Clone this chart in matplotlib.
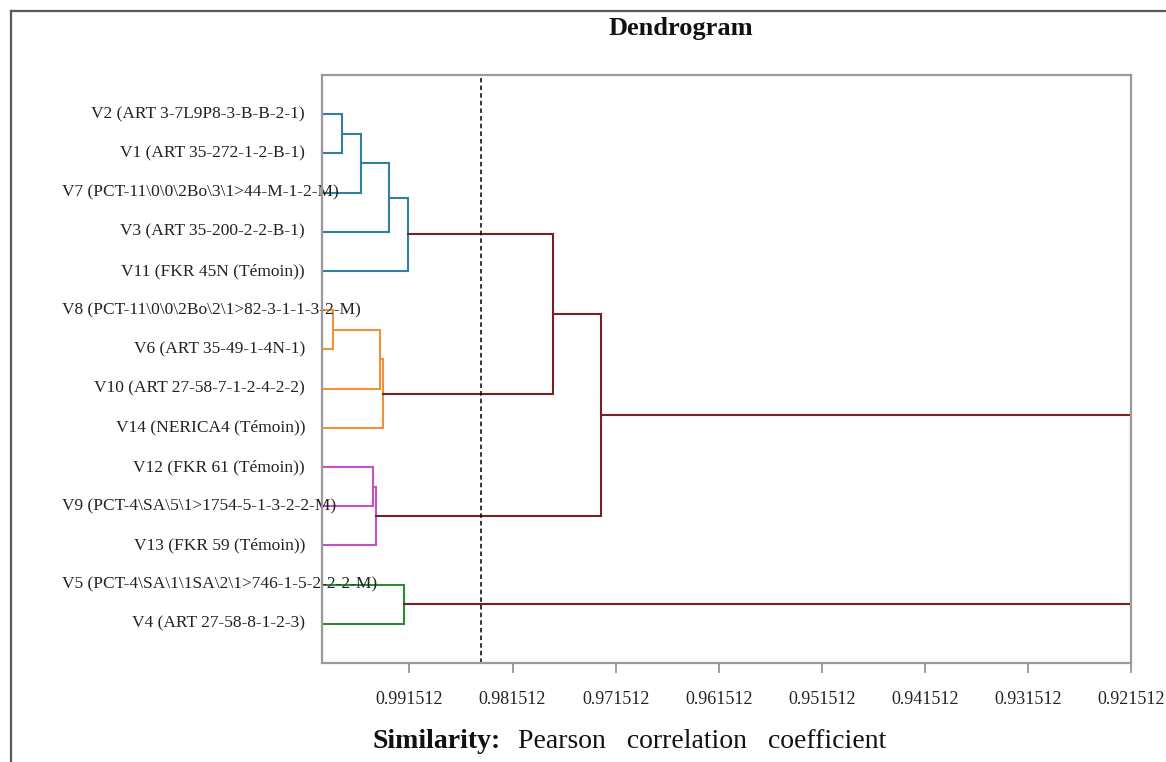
import matplotlib
matplotlib.use("Agg")
import matplotlib.pyplot as plt
from matplotlib.lines import Line2D

plt.rcParams['font.family'] = ['Liberation Serif', 'DejaVu Serif']

# feuilles dans l'ordre du dendrogramme (de haut en bas)
labels = ["V2 (ART 3-7L9P8-3-B-B-2-1)",
          "V1 (ART 35-272-1-2-B-1)",
          "V7 (PCT-11\\0\\0\\2Bo\\3\\1>44-M-1-2-M)",
          "V3 (ART 35-200-2-2-B-1)",
          "V11 (FKR 45N (Témoin))",
          "V8 (PCT-11\\0\\0\\2Bo\\2\\1>82-3-1-1-3-2-M)",
          "V6 (ART 35-49-1-4N-1)",
          "V10 (ART 27-58-7-1-2-4-2-2)",
          "V14 (NERICA4 (Témoin))",
          "V12 (FKR 61 (Témoin))",
          "V9 (PCT-4\\SA\\5\\1>1754-5-1-3-2-2-M)",
          "V13 (FKR 59 (Témoin))",
          "V5 (PCT-4\\SA\\1\\1SA\\2\\1>746-1-5-2-2-2-M)",
          "V4 (ART 27-58-8-1-2-3)"]

# fusions : enfant gauche, enfant droit, similarité, groupe
left_child = [0, 14, 15, 16, 5, 18, 19, 9, 21, 12, 17, 24, 25]
right_child = [1, 2, 3, 4, 6, 7, 8, 10, 11, 13, 20, 22, 23]
similarity = [0.99806, 0.99622, 0.99350, 0.99166,
              0.99893, 0.99437, 0.99408,
              0.99505, 0.99476,
              0.99204,
              0.97759, 0.97293, 0.921512]
group = ["blue", "blue", "blue", "blue",
         "orange", "orange", "orange",
         "pink", "pink",
         "green",
         "red", "red", "red"]

truncation = 0.98457
xticks = [0.991512, 0.981512, 0.971512, 0.961512, 0.951512, 0.941512, 0.931512, 0.921512]
x_max = 1.0
x_min = 0.921512

colors = {"blue": "#31809f", "orange": "#f0913c", "pink": "#c452c4",
          "green": "#2f8a32", "red": "#7a1f22"}

W, H = 1166, 762
fig = plt.figure(figsize=(W / 100, H / 100), dpi=100)
ax = fig.add_axes([322 / W, 99 / H, 809 / W, 588 / H])

n = len(labels)
pos_x = {i: x_max for i in range(n)}
pos_y = {i: i + 1 for i in range(n)}

for k in range(len(similarity)):
    a = left_child[k]
    b = right_child[k]
    s = similarity[k]
    ax.plot([pos_x[a], s, s, pos_x[b]], [pos_y[a], pos_y[a], pos_y[b], pos_y[b]],
            color=colors[group[k]], lw=1.5, solid_joinstyle='miter', zorder=2)
    pos_x[n + k] = s
    pos_y[n + k] = (pos_y[a] + pos_y[b]) / 2

ax.axvline(truncation, color="black", ls=(0, (3, 2)), lw=1.1, zorder=3)

ax.set_xlim(x_max, x_min)
ax.set_ylim(n + 1, 0)
ax.set_xticks(xticks)
ax.set_xticklabels(["%.6f" % v for v in xticks], fontsize=13, color="#222222")
ax.tick_params(axis='x', direction='out', length=7, width=1.2, color="#8c8c8c", pad=13)
ax.set_yticks([])
for sp in ax.spines.values():
    sp.set_color("#9a9a9a")
    sp.set_linewidth(1.6)
    sp.set_zorder(4)

# étiquettes des variétés
texts = []
for i, lab in enumerate(labels):
    t = ax.annotate(lab, xy=(0, pos_y[i]), xycoords=('axes fraction', 'data'),
                    xytext=(-17, 0), textcoords='offset pixels',
                    ha='right', va='center', fontsize=12.5, color="#222222",
                    annotation_clip=False)
    texts.append(t)

fig.canvas.draw()
r = fig.canvas.get_renderer()
for t in texts:
    bb = t.get_window_extent(r)
    if bb.x0 < 62:
        t.set_ha('left')
        t.set_position((62 - 322, 0))

fig.text(681 / W, 1 - 28 / H, "Dendrogram", ha='center', va='center',
         fontsize=19, fontweight='bold', color="#111111")
fig.text(372 / W, 20 / H, "Similarity:", ha='left', va='center',
         fontsize=20, fontweight='bold', color="#111111")
fig.text(518 / W, 20 / H, "Pearson   correlation   coefficient", ha='left', va='center',
         fontsize=20, color="#111111")

# cadre extérieur
fig.add_artist(Line2D([11 / W, 1], [1 - 11 / H, 1 - 11 / H], color="#5a5a5a", lw=1.6))
fig.add_artist(Line2D([11 / W, 11 / W], [0, 1 - 11 / H], color="#5a5a5a", lw=1.6))

fig.savefig("out.png", dpi=100, facecolor="white")
